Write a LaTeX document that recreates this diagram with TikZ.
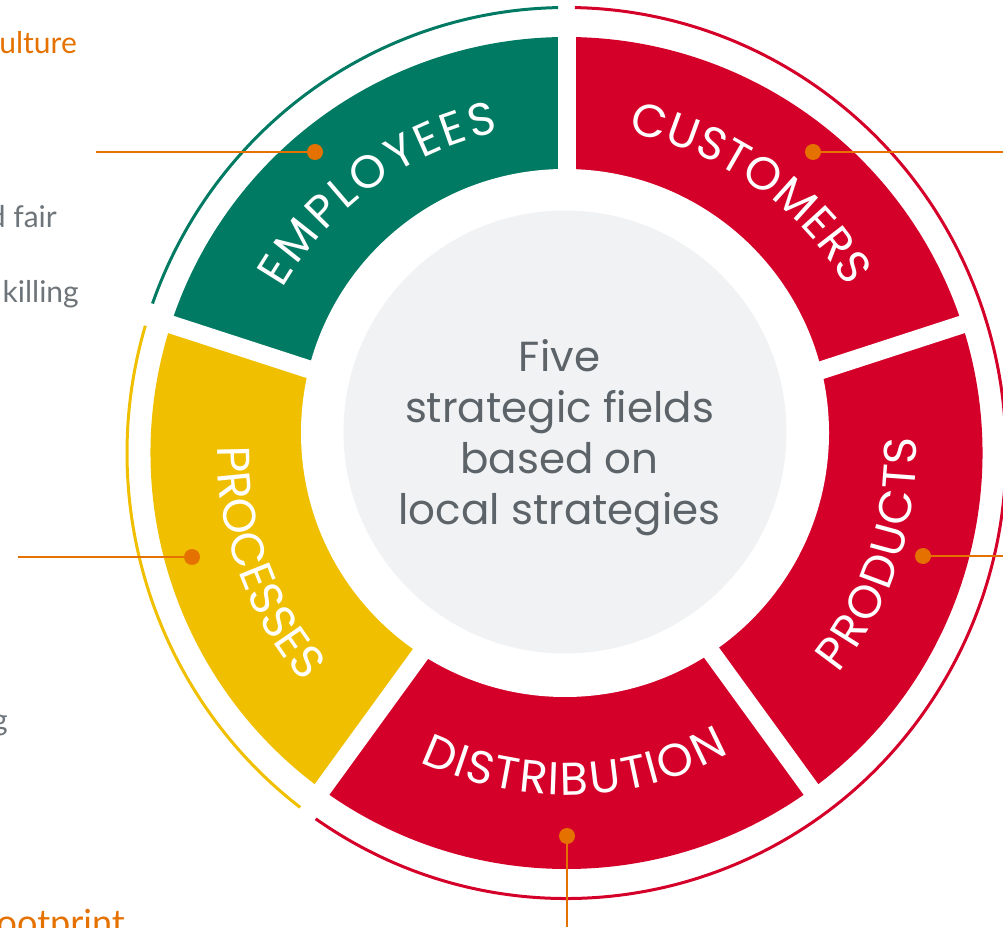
\documentclass[tikz,border=0pt]{standalone}
\usepackage{fontspec}
\usetikzlibrary{decorations.text}
\newfontfamily\segfont{Poppins}
\newfontfamily\sidefont{Lato}
\definecolor{cgreen}{HTML}{007A62}
\definecolor{cred}{HTML}{D40029}
\definecolor{cyellow}{HTML}{F0C000}
\definecolor{corange}{HTML}{E57200}
\definecolor{cgray}{HTML}{F1F2F4}
\definecolor{ctext}{HTML}{5C6469}
\definecolor{cside}{HTML}{6E757A}
\newcommand\seglabelfont{\segfont\fontsize{46}{46}\selectfont}
\begin{document}
\begin{tikzpicture}[x=1pt,y=1pt,
  gapline/.style={white, line width=18pt},
  thinarc/.style={line width=3pt},
  conn/.style={corange, line width=2.5pt},
  dot/.style={circle, fill=corange, minimum size=16pt, inner sep=0pt, outer sep=0pt},
  centertext/.style={font=\segfont\fontsize{42}{42}\selectfont, text=ctext, anchor=base, inner sep=0pt},
  sidetext/.style={font=\sidefont\fontsize{30}{30}\selectfont, anchor=base east, inner sep=0pt},
  seglabel/.style={decorate, decoration={text effects along path, text={#1},
     text effects/.cd, text along path, fit text to path,
     characters={text=white, font=\seglabelfont}}}
]
\useasboundingbox (0,0) rectangle (1003,927);
\clip (0,0) rectangle (1003,927);
\coordinate (C) at (566.5,474);

\begin{scope}[shift={(C)}]
  % coloured sectors
  \fill[cred]    (0,0) -- (18:416)  arc[start angle=18,  end angle=90,  radius=416] -- cycle;
  \fill[cgreen]  (0,0) -- (90:416)  arc[start angle=90,  end angle=162, radius=416] -- cycle;
  \fill[cyellow] (0,0) -- (162:416) arc[start angle=162, end angle=234, radius=416] -- cycle;
  \fill[cred]    (0,0) -- (234:416) arc[start angle=234, end angle=306, radius=416] -- cycle;
  \fill[cred]    (0,0) -- (306:416) arc[start angle=306, end angle=378, radius=416] -- cycle;
  % inner hole
  \fill[white] (-1.5,20) circle[radius=264];
  % gaps
  \foreach \a in {18,90,162,234,306} \draw[gapline] (0,0) -- (\a:425);
  % centre disc
  \fill[cgray] (-1.5,21) circle[radius=221.5];
  % thin outer arcs
  \draw[thinarc, cgreen]  (91.1:439.5 and 445.5) arc[start angle=91.1, end angle=160.4, x radius=439.5, y radius=445.5];
  \draw[thinarc, cyellow] (163.4:439.5 and 445.5) arc[start angle=163.4, end angle=232.7, x radius=439.5, y radius=445.5];
  \draw[thinarc, cred]    (235.2:439.5 and 445.5) arc[start angle=235.2, end angle=448.9, x radius=439.5, y radius=445.5];
  % curved labels
  \path[seglabel=EMPLOYEES]    (150:328) arc[start angle=150, end angle=102, radius=328];
  \path[seglabel=CUSTOMERS]    (79:326) arc[start angle=79, end angle=30.5, radius=326];
  \path[seglabel=PRODUCTS]     (-39:350) arc[start angle=-39, end angle=2.5, radius=350];
  \path[seglabel=PROCESSES]    (179:349) arc[start angle=179, end angle=221, radius=349];
  \path[seglabel=DISTRIBUTION] (244.5:342) arc[start angle=244.5, end angle=298.5, radius=342];
\end{scope}

% centre text
\node[centertext] (t1) at (559.5,555) {Five};
\node[centertext] (t2) at (559.5,504) {strategic fields};
\node[centertext] (t3) at (559.5,453) {based on};
\node[centertext] (t4) at (559.5,402) {local strategies};

% cut-off side texts
\node[sidetext, text=corange] (s1) at (77,873) {ulture};
\node[sidetext, text=cside]   (s2) at (57,699) {d fair};
\node[sidetext, text=cside]   (s3) at (79,624) {killing};
\node[sidetext, text=cside]   (s4) at (8,197) {g};
\node[sidetext, text=corange, font=\sidefont\fontsize{36}{36}\selectfont] (s5) at (125,-8) {ootprint};

% connectors with dots
\node[dot] (dE) at (315,775) {};
\node[dot] (dC) at (813,775) {};
\node[dot] (dR) at (923,371) {};
\node[dot] (dP) at (192,370) {};
\node[dot] (dD) at (567,91) {};
\coordinate (eE) at (96,775);
\coordinate (eC) at (1003,775);
\coordinate (eR) at (1003,371);
\coordinate (eP) at (18,370);
\coordinate (eD) at (567,0);
\draw[conn] (dE) -- (eE);
\draw[conn] (dC) -- (eC);
\draw[conn] (dR) -- (eR);
\draw[conn] (dP) -- (eP);
\draw[conn] (dD) -- (eD);
\end{tikzpicture}
\end{document}
